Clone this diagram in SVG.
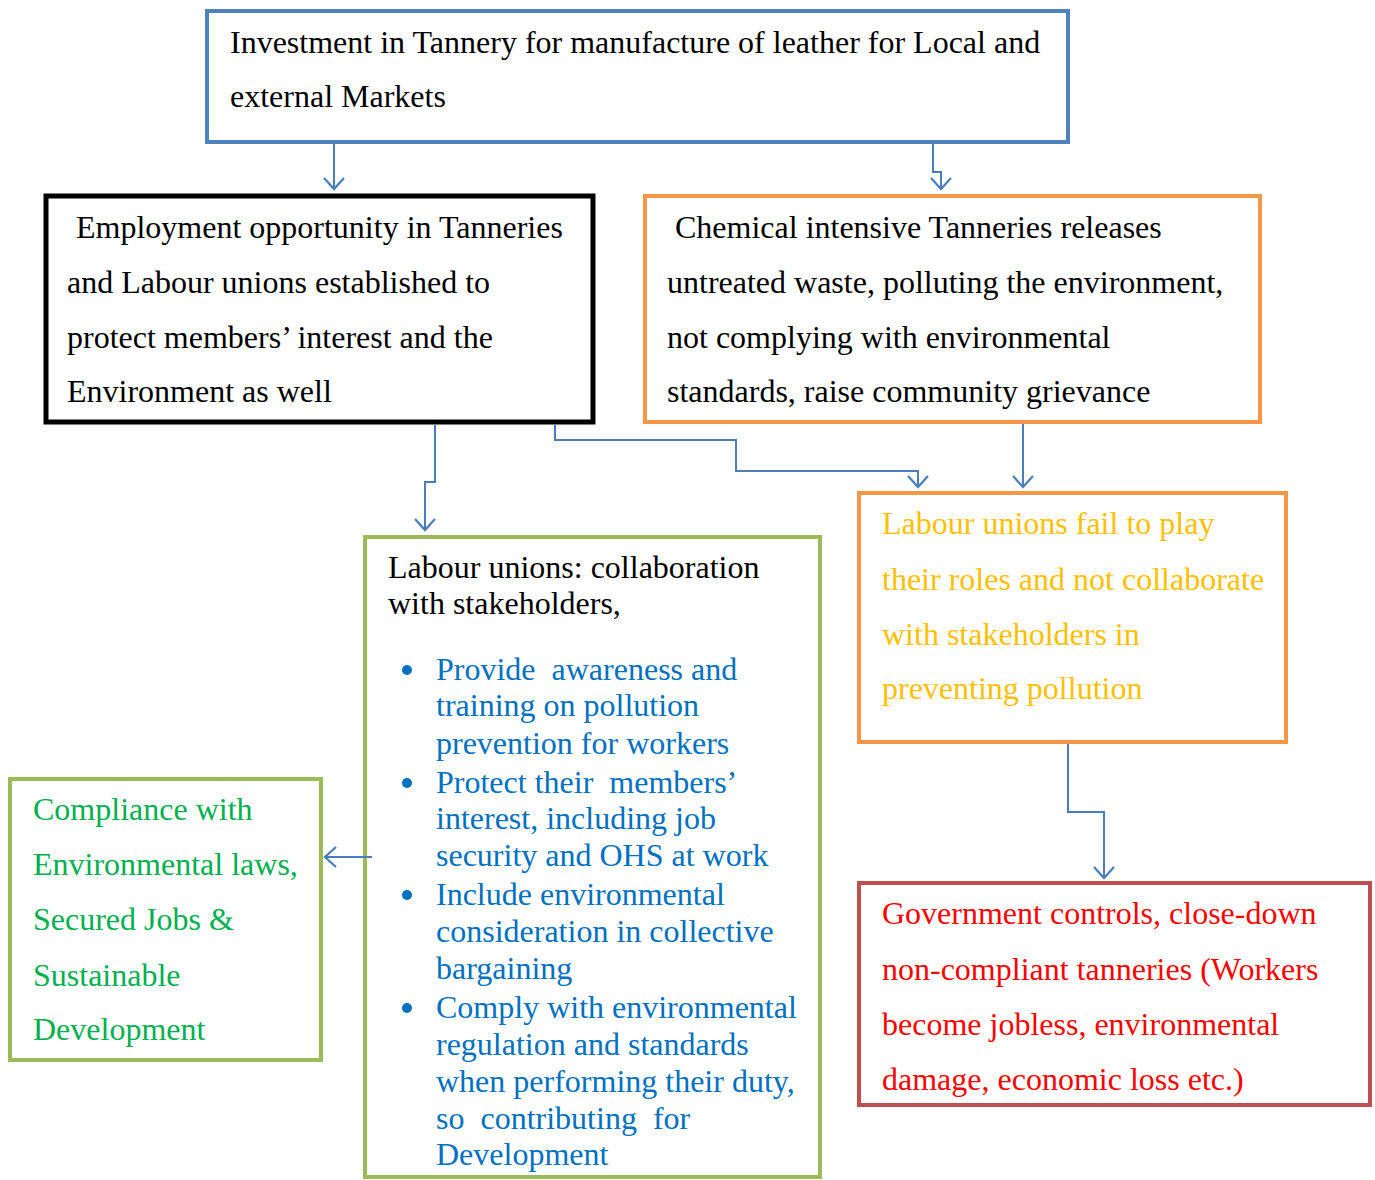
<svg xmlns="http://www.w3.org/2000/svg" width="1375" height="1180" viewBox="0 0 1375 1180">
<style>
text{font-family:"Liberation Serif","Times New Roman",serif;font-size:32px}
.box{fill:#fff}
.blk{fill:#000}
.blu{fill:#0070c0}
.yel{fill:#ffc000}
.red{fill:#ff0000}
.grn{fill:#00b050}
.con{fill:none;stroke:#4a7ebb;stroke-width:2;marker-end:url(#ah)}
</style>
<defs>
<marker id="ah" markerUnits="userSpaceOnUse" markerWidth="26" markerHeight="26" viewBox="-13 -13 26 26" refX="0" refY="0" orient="auto">
<path d="M-11,-10 L0,0 L-11,10" fill="none" stroke="#4a7ebb" stroke-width="2.2"/>
</marker>
</defs>
<rect width="1375" height="1180" fill="#fff"/>
<g id="n1">
<rect class="box" x="207" y="11" width="861" height="131" stroke="#4f81bd" stroke-width="4"/>
<text class="blk" x="230" y="53">Investment in Tannery for manufacture of leather for Local and</text>
<text class="blk" x="230" y="107">external Markets</text>
</g>
<g id="n2">
<rect class="box" x="46" y="196" width="547" height="226" stroke="#000" stroke-width="5"/>
<text class="blk" x="76" y="238">Employment opportunity in Tanneries</text>
<text class="blk" x="67" y="293">and Labour unions established to</text>
<text class="blk" x="67" y="348">protect members’ interest and the</text>
<text class="blk" x="67" y="402">Environment as well</text>
</g>
<g id="n3">
<rect class="box" x="645" y="196" width="615" height="226" stroke="#f79646" stroke-width="4"/>
<text class="blk" x="675" y="238">Chemical intensive Tanneries releases</text>
<text class="blk" x="667" y="293">untreated waste, polluting the environment,</text>
<text class="blk" x="667" y="348">not complying with environmental</text>
<text class="blk" x="667" y="402">standards, raise community grievance</text>
</g>
<g id="n4">
<rect class="box" x="859" y="493" width="427" height="249" stroke="#f79646" stroke-width="4"/>
<text class="yel" x="882" y="534">Labour unions fail to play</text>
<text class="yel" x="882" y="590">their roles and not collaborate</text>
<text class="yel" x="882" y="645">with stakeholders in</text>
<text class="yel" x="882" y="699">preventing pollution</text>
</g>
<g id="n5">
<rect class="box" x="859" y="883" width="511" height="222" stroke="#c0504d" stroke-width="4"/>
<text class="red" x="882" y="924">Government controls, close-down</text>
<text class="red" x="882" y="980">non-compliant tanneries (Workers</text>
<text class="red" x="882" y="1035">become jobless, environmental</text>
<text class="red" x="882" y="1090">damage, economic loss etc.)</text>
</g>
<g id="n6">
<rect class="box" x="365" y="537" width="455" height="640" stroke="#9bbb59" stroke-width="4"/>
<text class="blk" x="388" y="578">Labour unions: collaboration</text>
<text class="blk" x="388" y="614">with stakeholders,</text>
<g class="blu">
<circle cx="407" cy="670" r="5"/>
<circle cx="407" cy="783" r="5"/>
<circle cx="407" cy="895" r="5"/>
<circle cx="407" cy="1008" r="5"/>
</g>
<text class="blu" x="436" y="680" xml:space="preserve">Provide  awareness and</text>
<text class="blu" x="436" y="716">training on pollution</text>
<text class="blu" x="436" y="754">prevention for workers</text>
<text class="blu" x="436" y="793" xml:space="preserve">Protect their  members’</text>
<text class="blu" x="436" y="829">interest, including job</text>
<text class="blu" x="436" y="866">security and OHS at work</text>
<text class="blu" x="436" y="905">Include environmental</text>
<text class="blu" x="436" y="942">consideration in collective</text>
<text class="blu" x="436" y="979">bargaining</text>
<text class="blu" x="436" y="1018">Comply with environmental</text>
<text class="blu" x="436" y="1055">regulation and standards</text>
<text class="blu" x="436" y="1092">when performing their duty,</text>
<text class="blu" x="436" y="1129" xml:space="preserve">so  contributing  for</text>
<text class="blu" x="436" y="1165">Development</text>
</g>
<g id="n7">
<rect class="box" x="10" y="779" width="311" height="281" stroke="#9bbb59" stroke-width="4"/>
<text class="grn" x="33" y="820">Compliance with</text>
<text class="grn" x="33" y="875">Environmental laws,</text>
<text class="grn" x="33" y="930">Secured Jobs &amp;</text>
<text class="grn" x="33" y="986">Sustainable</text>
<text class="grn" x="33" y="1040">Development</text>
</g>
<g id="connectors">
<path class="con" d="M334,144 V189"/>
<path class="con" d="M933,144 V172 H941 V189"/>
<path class="con" d="M435,425 V482 H425 V530"/>
<path class="con" d="M555,425 V440 H736 V471 H918 V487"/>
<path class="con" d="M1023,424 V487"/>
<path class="con" d="M1068,744 V812 H1104 V878"/>
<path class="con" d="M372,857 H325"/>
</g>
</svg>
